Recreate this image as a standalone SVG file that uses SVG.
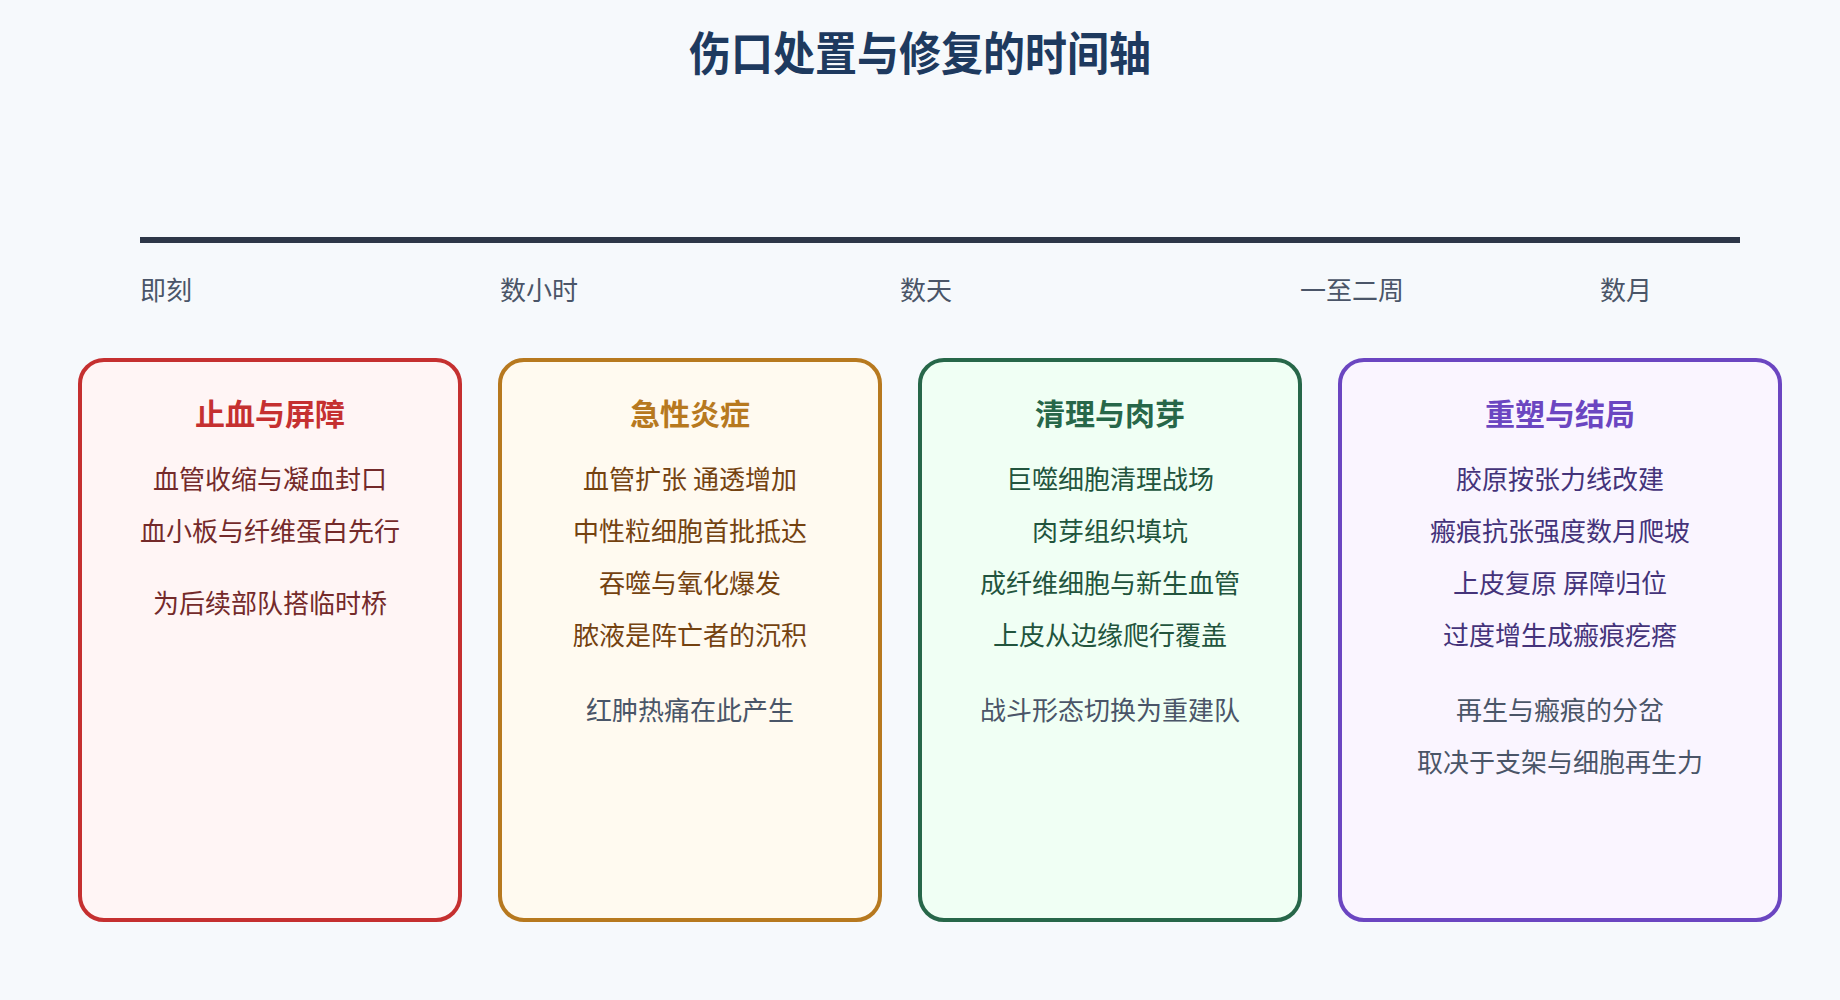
<svg xmlns="http://www.w3.org/2000/svg" width="1840" height="1000" viewBox="0 0 1840 1000">
  <style>
    text { font-family: "Noto Sans CJK SC", "Noto Sans", sans-serif; }
    .title { font-size: 46px; font-weight: bold; fill: #1e3a5f; text-anchor: middle; }
    .tick { font-size: 26px; fill: #4a5568; }
    .card { stroke-width: 4; }
    .ct { font-size: 30px; font-weight: bold; text-anchor: middle; }
    .body { font-size: 26px; text-anchor: middle; }
    .note { font-size: 26px; text-anchor: middle; fill: #4a5568; }
  </style>
  <rect x="0" y="0" width="1840" height="1000" fill="#f6f9fc"/>
  <text class="title" x="920" y="70" textLength="462" lengthAdjust="spacingAndGlyphs">伤口处置与修复的时间轴</text>

  <g id="connectors">
    <line x1="140" y1="240" x2="1740" y2="240" stroke="#2d3748" stroke-width="6"/>
  </g>

  <g id="ticks">
    <text class="tick" x="140" y="300">即刻</text>
    <text class="tick" x="500" y="300">数小时</text>
    <text class="tick" x="900" y="300">数天</text>
    <text class="tick" x="1300" y="300">一至二周</text>
    <text class="tick" x="1600" y="300">数月</text>
  </g>

  <g id="card-hemostasis">
    <rect class="card" x="80" y="360" width="380" height="560" rx="24" ry="24" fill="#fff5f5" stroke="#c53030"/>
    <text class="ct" x="270" y="425" fill="#c53030">止血与屏障</text>
    <text class="body" x="270" y="489" fill="#742a2a">血管收缩与凝血封口</text>
    <text class="body" x="270" y="541" fill="#742a2a">血小板与纤维蛋白先行</text>
    <text class="body" x="270" y="613" fill="#742a2a">为后续部队搭临时桥</text>
  </g>

  <g id="card-inflammation">
    <rect class="card" x="500" y="360" width="380" height="560" rx="24" ry="24" fill="#fffaf0" stroke="#b7791f"/>
    <text class="ct" x="690" y="425" fill="#b7791f">急性炎症</text>
    <text class="body" x="690" y="489" fill="#744210">血管扩张 通透增加</text>
    <text class="body" x="690" y="541" fill="#744210">中性粒细胞首批抵达</text>
    <text class="body" x="690" y="593" fill="#744210">吞噬与氧化爆发</text>
    <text class="body" x="690" y="645" fill="#744210">脓液是阵亡者的沉积</text>
    <text class="note" x="690" y="720">红肿热痛在此产生</text>
  </g>

  <g id="card-proliferation">
    <rect class="card" x="920" y="360" width="380" height="560" rx="24" ry="24" fill="#f0fff4" stroke="#276749"/>
    <text class="ct" x="1110" y="425" fill="#276749">清理与肉芽</text>
    <text class="body" x="1110" y="489" fill="#22543d">巨噬细胞清理战场</text>
    <text class="body" x="1110" y="541" fill="#22543d">肉芽组织填坑</text>
    <text class="body" x="1110" y="593" fill="#22543d">成纤维细胞与新生血管</text>
    <text class="body" x="1110" y="645" fill="#22543d">上皮从边缘爬行覆盖</text>
    <text class="note" x="1110" y="720">战斗形态切换为重建队</text>
  </g>

  <g id="card-remodeling">
    <rect class="card" x="1340" y="360" width="440" height="560" rx="24" ry="24" fill="#faf5ff" stroke="#6b46c1"/>
    <text class="ct" x="1560" y="425" fill="#6b46c1">重塑与结局</text>
    <text class="body" x="1560" y="489" fill="#44337a">胶原按张力线改建</text>
    <text class="body" x="1560" y="541" fill="#44337a">瘢痕抗张强度数月爬坡</text>
    <text class="body" x="1560" y="593" fill="#44337a">上皮复原 屏障归位</text>
    <text class="body" x="1560" y="645" fill="#44337a">过度增生成瘢痕疙瘩</text>
    <text class="note" x="1560" y="720">再生与瘢痕的分岔</text>
    <text class="note" x="1560" y="772">取决于支架与细胞再生力</text>
  </g>
</svg>
